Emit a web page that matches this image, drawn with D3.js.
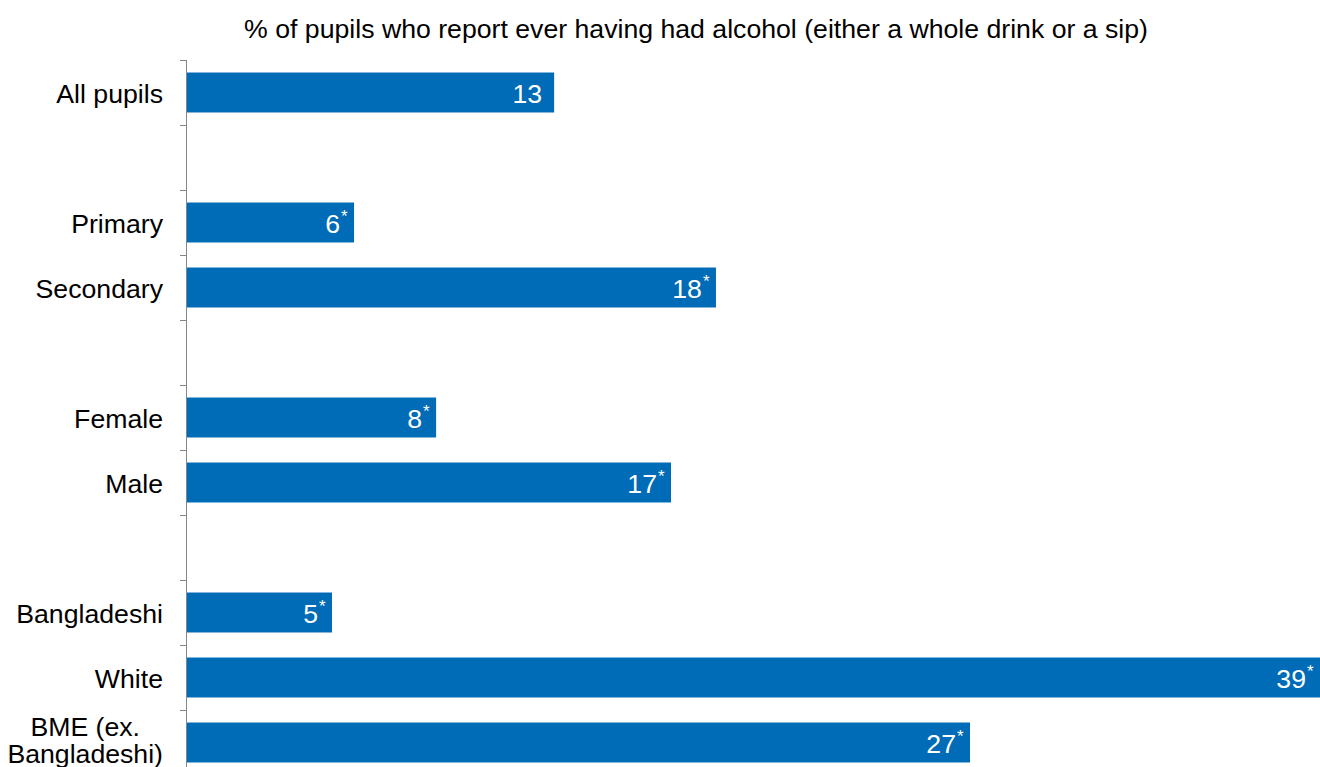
<!DOCTYPE html>
<html>
<head>
<meta charset="utf-8">
<script src="https://cdn.jsdelivr.net/npm/d3@7"></script>
<style>
  html, body { margin: 0; padding: 0; background: #fff; overflow: hidden; }
  svg { display: block; font-family: "Liberation Sans", Arial, sans-serif; }
</style>
</head>
<body>
<svg id="chart" width="1320" height="767"></svg>
<script>
// Data (slots named gap* are spacer rows)
const slots = ["All pupils", "gap1", "Primary", "Secondary", "gap2", "Female", "Male", "gap3", "Bangladeshi", "White", "BME (ex.|Bangladeshi)"];
const categories = ["All pupils", "Primary", "Secondary", "Female", "Male", "Bangladeshi", "White", "BME (ex.|Bangladeshi)"];
const values = [12.66, 5.76, 18.24, 8.59, 16.69, 5.0, 39.07, 27.0];
const valueLabels = ["13", "6", "18", "8", "17", "5", "39", "27"];
const significant = [false, true, true, true, true, true, true, true];
const title = "% of pupils who report ever having had alcohol (either a whole drink or a sip)";

const svg = d3.select("#chart");
const W = 1320, H = 767;
const margin = { left: 187, top: 60 };
const plotBottom = 775;
const FS = 26.67;

const x = d3.scaleLinear().domain([0, 40]).range([margin.left, margin.left + 40 * 29]);
const yBar = d3.scaleBand().domain(slots).range([margin.top, plotBottom])
  .paddingInner(0.385).paddingOuter(0.1925);
const ySlot = d3.scaleBand().domain(slots).range([margin.top, plotBottom]).padding(0);

const color = "#006BB6";

// Title
svg.append("text")
  .attr("x", 696).attr("y", 38)
  .attr("text-anchor", "middle")
  .attr("font-size", FS)
  .attr("fill", "#000")
  .text(title);

// Bars
const data = categories.map((c, i) => ({ c, v: values[i], lab: valueLabels[i], sig: significant[i] }));

svg.append("g").selectAll("rect").data(data).join("rect")
  .attr("x", x(0))
  .attr("y", d => yBar(d.c))
  .attr("width", d => x(d.v) - x(0))
  .attr("height", yBar.bandwidth())
  .attr("fill", color);

// Value labels
svg.append("g").selectAll("text").data(data).join("text")
  .attr("x", d => x(d.v) - (d.sig ? 14 : 12))
  .attr("y", d => yBar(d.c) + yBar.bandwidth() / 2 + 10)
  .attr("text-anchor", "end")
  .attr("font-size", FS)
  .attr("fill", "#fff")
  .text(d => d.lab);

svg.append("g").selectAll("text").data(data.filter(d => d.sig)).join("text")
  .attr("x", d => x(d.v) - 13)
  .attr("y", d => yBar(d.c) + yBar.bandwidth() / 2 - 1)
  .attr("text-anchor", "start")
  .attr("font-size", 17)
  .attr("fill", "#fff")
  .text("*");

// Axis line and ticks
const axisG = svg.append("g");
axisG.append("line")
  .attr("x1", margin.left - 0.5).attr("x2", margin.left - 0.5)
  .attr("y1", margin.top).attr("y2", H)
  .attr("stroke", "#868686").attr("stroke-width", 1);
const tickPos = slots.map(s => ySlot(s)).concat([ySlot(slots[slots.length - 1]) + ySlot.bandwidth()]);
axisG.selectAll("line.tick").data(tickPos).join("line")
  .attr("class", "tick")
  .attr("x1", margin.left - 7).attr("x2", margin.left)
  .attr("y1", d => Math.round(d) + 0.5).attr("y2", d => Math.round(d) + 0.5)
  .attr("stroke", "#868686").attr("stroke-width", 1);

// Category labels
const labelRight = 163;
const cl = svg.append("g").selectAll("text").data(categories).join("text")
  .attr("font-size", FS)
  .attr("fill", "#000")
  .attr("y", d => yBar(d) + yBar.bandwidth() / 2);
cl.each(function(d) {
  const lines = d.split("|");
  const t = d3.select(this);
  const lh = 27;
  if (lines.length === 1) {
    t.attr("text-anchor", "end").attr("x", labelRight).attr("dy", 10).text(d);
  } else {
    // measure longest line to centre the block against the right edge
    const tmp = svg.append("text").attr("font-size", FS);
    const widths = lines.map(ln => { tmp.text(ln); return tmp.node().getComputedTextLength(); });
    tmp.remove();
    const cx = labelRight - d3.max(widths) / 2;
    t.attr("text-anchor", "middle");
    lines.forEach((ln, i) => {
      t.append("tspan")
        .attr("x", cx)
        .attr("dy", i === 0 ? (7 - (lines.length - 1) * lh / 2) : lh)
        .text(ln);
    });
  }
});
</script>
</body>
</html>
